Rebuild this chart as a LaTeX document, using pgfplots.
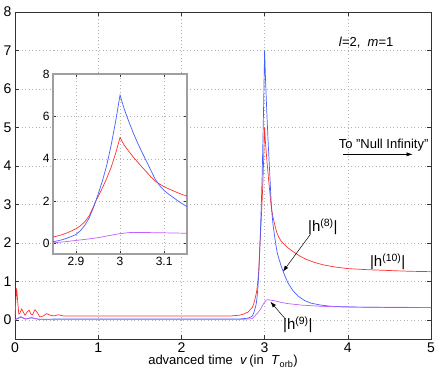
\documentclass[border=0pt]{standalone}
\usepackage{fontspec}
\setmainfont{Liberation Sans}
\usepackage{pgfplots}
\usepackage{pgfplotstable}
\pgfplotsset{compat=1.18}
\usetikzlibrary{arrows.meta}

\definecolor{hred}{RGB}{255,50,50}
\definecolor{hblue}{RGB}{70,95,255}
\definecolor{hviolet}{RGB}{195,95,255}

% |h^(10)|
\pgfplotstableread{
x y
0 0.05
0.01 0.5
0.02 0.82
0.03 0.55
0.045 0.15
0.06 0.18
0.08 0.28
0.1 0.2
0.12 0.12
0.145 0.2
0.17 0.25
0.19 0.15
0.21 0.13
0.24 0.26
0.27 0.18
0.3 0.07
0.34 0.1
0.38 0.16
0.42 0.12
0.47 0.1
0.52 0.13
0.58 0.1
0.7 0.1
1.0 0.1
2.0 0.1
2.6 0.1
2.7 0.12
2.75 0.15
2.8 0.2
2.85 0.31
2.86 0.36
2.87 0.42
2.88 0.5
2.89 0.59
2.9 0.69
2.91 0.83
2.92 1.02
2.93 1.3
2.94 1.75
2.945 2.0
2.95 2.2
2.96 2.62
2.97 3.08
2.98 3.6
2.99 4.25
3.0 5.0
3.01 4.62
3.02 4.35
3.03 4.08
3.04 3.84
3.05 3.6
3.06 3.38
3.07 3.14
3.08 2.94
3.09 2.8
3.1 2.68
3.11 2.58
3.12 2.49
3.13 2.4
3.14 2.32
3.15 2.25
3.17 2.15
3.2 2.04
3.24 1.95
3.28 1.87
3.35 1.76
3.42 1.66
3.5 1.57
3.6 1.49
3.7 1.43
3.85 1.37
4.0 1.33
4.25 1.3
4.5 1.28
4.75 1.26
5.0 1.25
}\redtab

% |h^(8)|
\pgfplotstableread{
x y
0 0
0.04 0.04
0.07 0.07
0.1 0.04
0.13 0.02
0.17 0.04
0.2 0.05
0.24 0.03
0.3 0.01
0.5 0.02
2.7 0.02
2.8 0.04
2.85 0.09
2.86 0.13
2.87 0.18
2.88 0.25
2.89 0.33
2.9 0.42
2.91 0.6
2.92 0.85
2.93 1.2
2.94 1.7
2.945 2.0
2.95 2.3
2.96 2.95
2.97 3.7
2.98 4.65
2.99 5.75
3.0 7.0
3.01 6.32
3.02 5.75
3.03 5.22
3.04 4.74
3.05 4.3
3.06 3.88
3.07 3.45
3.08 3.02
3.09 2.73
3.1 2.5
3.11 2.33
3.12 2.18
3.13 2.03
3.14 1.89
3.15 1.76
3.17 1.6
3.2 1.39
3.24 1.16
3.28 0.96
3.34 0.76
3.4 0.62
3.48 0.5
3.56 0.43
3.68 0.38
3.8 0.35
4.08 0.33
4.5 0.32
5.0 0.32
}\bluetab

% |h^(9)|
\pgfplotstableread{
x y
0 0
0.04 0.05
0.07 0.08
0.1 0.05
0.13 0.02
0.17 0.04
0.2 0.06
0.24 0.03
0.3 0.01
0.5 0.01
2.7 0.01
2.8 0.02
2.85 0.03
2.875 0.08
2.9 0.14
2.925 0.2
2.95 0.27
2.975 0.37
3.0 0.46
3.02 0.51
3.04 0.52
3.07 0.51
3.1 0.5
3.15 0.48
3.2 0.45
3.28 0.42
3.45 0.38
3.68 0.35
4.0 0.33
5.0 0.32
}\violettab

\begin{document}
\begin{tikzpicture}[font=\fontsize{13}{15}\selectfont]
\begin{axis}[
    at={(0,0)}, anchor=south west,
    scale only axis,
    width=416pt, height=327pt,
    xmin=0, xmax=5, ymin=-0.5, ymax=8,
    xtick={0,1,2,3,4,5},
    ytick={0,1,2,3,4,5,6,7,8},
    grid=major,
    grid style={gray!60, dash pattern=on 1pt off 2.5pt},
    major tick length=4pt,
    tick style={black!80, thin},
    axis line style={black!80, line width=0.5pt},
    /pgf/number format/assume math mode=true,
    tick label style={font=\fontsize{14}{16}\selectfont},
    xlabel={advanced time \ \textit{v}\,(in \ \textit{T}\textsubscript{orb})},
    xlabel style={yshift=4pt},
    clip mode=individual,
]
\addplot[hred, line width=0.7pt] table[x=x, y=y] {\redtab};
\addplot[hblue, line width=0.7pt] table[x=x, y=y] {\bluetab};
\addplot[hviolet, line width=0.7pt] table[x=x, y=y] {\violettab};

\node at (axis cs:4.22,7.2) {\textit{l}=2,\ \ \textit{m}=1};
\node at (axis cs:4.43,4.54) {To "Null Infinity"};
\draw[-{Latex[length=6pt,width=4pt]}, line width=0.5pt] (axis cs:3.94,4.3) -- (axis cs:4.78,4.3);
\node[font=\fontsize{15}{17}\selectfont] at (axis cs:3.70,2.42) {|h\textsuperscript{(8)}|};
\draw[-{Latex[length=6pt,width=4pt]}, line width=0.5pt] (axis cs:3.55,2.22) -- (axis cs:3.22,1.25);
\node[font=\fontsize{15}{17}\selectfont] at (axis cs:4.48,1.5) {|h\textsuperscript{(10)}|};
\node[font=\fontsize{15}{17}\selectfont] at (axis cs:3.40,-0.13) {|h\textsuperscript{(9)}|};
\draw[-{Latex[length=6pt,width=4pt]}, line width=0.5pt] (axis cs:3.25,0.02) -- (axis cs:3.07,0.47);
\end{axis}

\begin{axis}[
    at={(38pt,85pt)}, anchor=south west,
    scale only axis,
    width=134pt, height=180pt,
    xmin=2.848, xmax=3.152, ymin=-0.5, ymax=8,
    xtick={2.9,3,3.1},
    xticklabels={2.9,3,3.1},
    ytick={0,2,4,6,8},
    grid=major,
    grid style={gray!60, dash pattern=on 1pt off 2.5pt},
    major tick length=3pt,
    tick style={black!80, thin},
    axis line style={gray!75, line width=1.5pt},
    axis background/.style={fill=white},
    /pgf/number format/assume math mode=true,
    tick label style={font=\fontsize{12}{14}\selectfont},
]
\addplot[hred, line width=0.7pt] table[x=x, y=y] {\redtab};
\addplot[hblue, line width=0.7pt] table[x=x, y=y] {\bluetab};
\addplot[hviolet, line width=0.7pt] table[x=x, y=y] {\violettab};
\end{axis}

\pgfresetboundingbox
\path[use as bounding box] (-15pt,-43pt) rectangle (423pt,339pt);
\end{tikzpicture}
\end{document}
